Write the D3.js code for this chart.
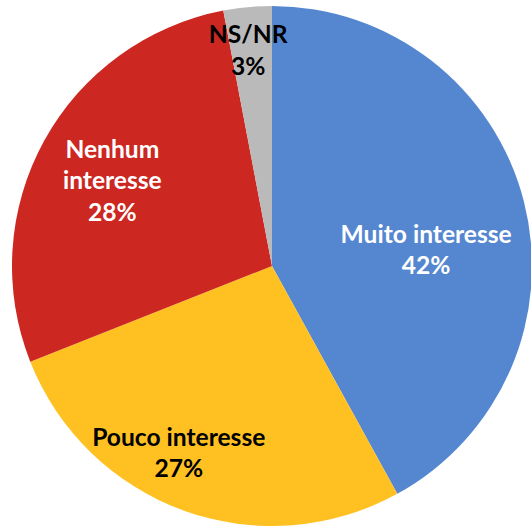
<!DOCTYPE html>
<html>
<head>
<meta charset="utf-8">
<script src="https://cdn.jsdelivr.net/npm/d3@7"></script>
<style>
  body { margin: 0; background: #fff; }
  text { font-family: Lato, "Open Sans", sans-serif; font-weight: 700; }
</style>
</head>
<body>
<div id="chart"></div>
<script>
// data
var categories = ["Muito interesse", "Pouco interesse", "Nenhum interesse", "NS/NR"];
var percents = [42, 27, 28, 3];
var labelLines = [["Muito interesse"], ["Pouco interesse"], ["Nenhum", "interesse"], ["NS/NR"]];

// styling / layout
var colors = ["#5587D0", "#FFC022", "#CC2721", "#BABABA"];
var textColors = ["#fff", "#000", "#fff", "#000"];
// where the data labels sit: angle (deg, clockwise from top) and radius
var labelAngle = [84.1, 206.5, 298.1, 353.7];
var labelRadius = [155, 209, 181, 217];

var width = 531, height = 529,
    cx = 272, cy = 266, radius = 260;

var svg = d3.select("#chart").append("svg")
    .attr("width", width)
    .attr("height", height);

var g = svg.append("g")
    .attr("transform", "translate(" + cx + "," + cy + ")");

var data = categories.map(function (c, i) {
    return { name: c, value: percents[i], i: i };
});

var pie = d3.pie()
    .sort(null)
    .value(function (d) { return d.value; });

var arc = d3.arc()
    .innerRadius(0)
    .outerRadius(radius);

var arcs = pie(data);

g.selectAll("path.slice")
    .data(arcs)
    .enter().append("path")
    .attr("class", "slice")
    .attr("d", arc)
    .style("fill", function (d) { return colors[d.data.i]; });

var fontSize = 24.6, lineH = 31.5;

var labels = g.selectAll("text.label")
    .data(arcs)
    .enter().append("text")
    .attr("class", "label")
    .attr("text-anchor", "middle")
    .style("font-size", fontSize + "px")
    .style("fill", function (d) { return textColors[d.data.i]; })
    .attr("transform", function (d) {
        var a = labelAngle[d.data.i] * Math.PI / 180,
            r = labelRadius[d.data.i];
        return "translate(" + (r * Math.sin(a)) + "," + (-r * Math.cos(a)) + ")";
    });

labels.each(function (d) {
    var lines = labelLines[d.data.i].concat([d.data.value + "%"]);
    var el = d3.select(this);
    var top = -(lines.length - 1) * lineH / 2 + fontSize * 0.35;
    lines.forEach(function (t, k) {
        el.append("tspan")
            .attr("x", 0)
            .attr("y", top + k * lineH)
            .text(t);
    });
});
</script>
</body>
</html>
